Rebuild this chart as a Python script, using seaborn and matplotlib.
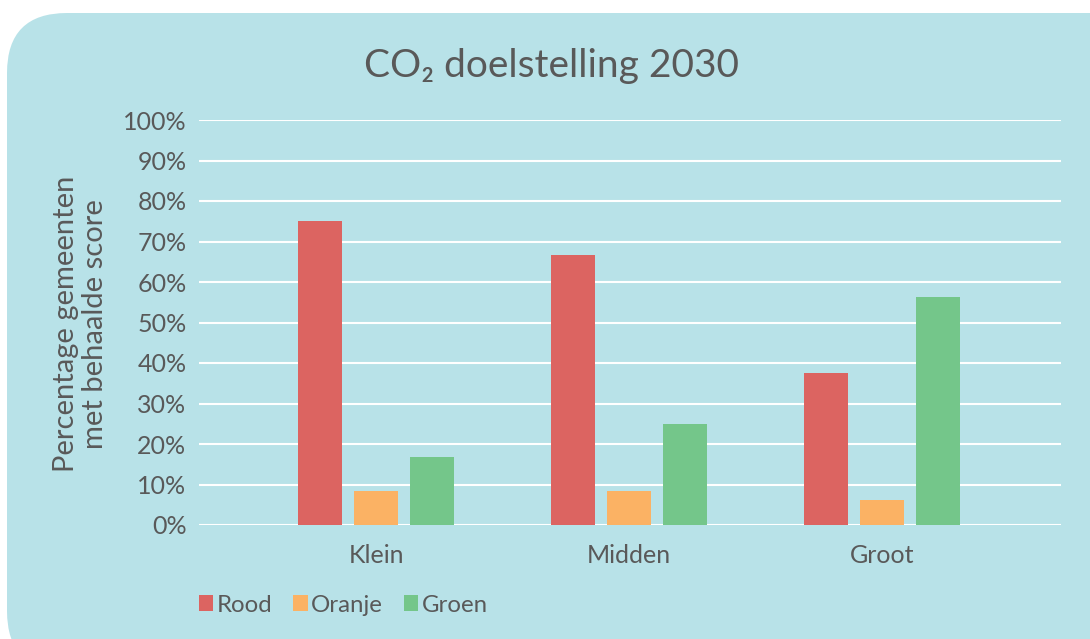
import matplotlib
matplotlib.use("Agg")
import matplotlib.pyplot as plt
from matplotlib.patches import FancyBboxPatch, Patch
from matplotlib.ticker import PercentFormatter
import seaborn as sns
import pandas as pd

categories = ["Klein", "Midden", "Groot"]
series = ["Rood", "Oranje", "Groen"]
rood = [0.75, 0.6667, 0.375]
oranje = [0.0833, 0.0833, 0.0625]
groen = [0.1667, 0.25, 0.5625]
colors = ["#dc6461", "#fbb264", "#74c68a"]
yticks = [0, 0.1, 0.2, 0.3, 0.4, 0.5, 0.6, 0.7, 0.8, 0.9, 1.0]

rows = []
for s, vals in zip(series, [rood, oranje, groen]):
    for c, v in zip(categories, vals):
        rows.append({"Grootte": c, "Score": s, "Waarde": v})
df = pd.DataFrame(rows)

sns.set_style("white")
plt.rcParams["font.family"] = ["Lato", "DejaVu Sans"]
plt.rcParams["font.weight"] = "normal"

BG = "#b8e2e8"
TXT = "#595959"

fig = plt.figure(figsize=(10.9, 6.39), dpi=100)
fig.patch.set_facecolor("white")
panel = FancyBboxPatch((7 / 1090, -0.05), 1.2, (639 - 13) / 639 + 0.05,
                       boxstyle="round,pad=0,rounding_size=0.055",
                       transform=fig.transFigure, facecolor=BG,
                       edgecolor="none", mutation_aspect=1090 / 639, zorder=-10)
fig.patches.append(panel)

ax = fig.add_axes([199 / 1090, 1 - 525 / 639, (1061 - 199) / 1090, (525 - 120) / 639])
ax.set_zorder(2)
ax.set_facecolor("none")

sns.barplot(data=df, x="Grootte", y="Waarde", hue="Score", order=categories,
            hue_order=series, palette=colors, width=0.664, gap=0.214,
            saturation=1, ax=ax, legend=False, zorder=3,
            linewidth=0, edgecolor="none")

ax.set_xlim(-0.70, 2.708)
ax.set_ylim(0, 1.0)
ax.set_yticks(yticks)
ax.yaxis.set_major_formatter(PercentFormatter(1.0, decimals=0))
ax.grid(axis="y", color="white", linewidth=1.5, zorder=0)
ax.set_axisbelow(True)
for sp in ax.spines.values():
    sp.set_visible(False)
ax.tick_params(axis="both", length=0, labelsize=18, colors=TXT)
ax.tick_params(axis="y", pad=9)
ax.tick_params(axis="x", pad=14)
ax.set_xlabel("")
ax.set_ylabel("Percentage gemeenten\nmet behaalde score", fontsize=21,
              color=TXT, linespacing=1.15)
ax.yaxis.label.set_va("center")
ax.yaxis.set_label_coords(-0.137, 0.497)

fig.text(552 / 1090, 1 - 66 / 639, "CO\u2082 doelstelling 2030", ha="center",
         va="center", fontsize=28, color=TXT, zorder=5)

handles = [Patch(facecolor=c, edgecolor="none", label=s) for s, c in zip(series, colors)]
leg = fig.legend(handles=handles, loc="center left",
                 bbox_to_anchor=(199 / 1090, 1 - 605 / 639), ncol=3, frameon=False,
                 fontsize=17.3, handlelength=0.6, handleheight=0.6,
                 handletextpad=0.15, columnspacing=0.85, borderaxespad=0,
                 borderpad=0)
leg.set_zorder(5)
for t in leg.get_texts():
    t.set_color(TXT)

fig.savefig("out.png", dpi=100, facecolor="white")
